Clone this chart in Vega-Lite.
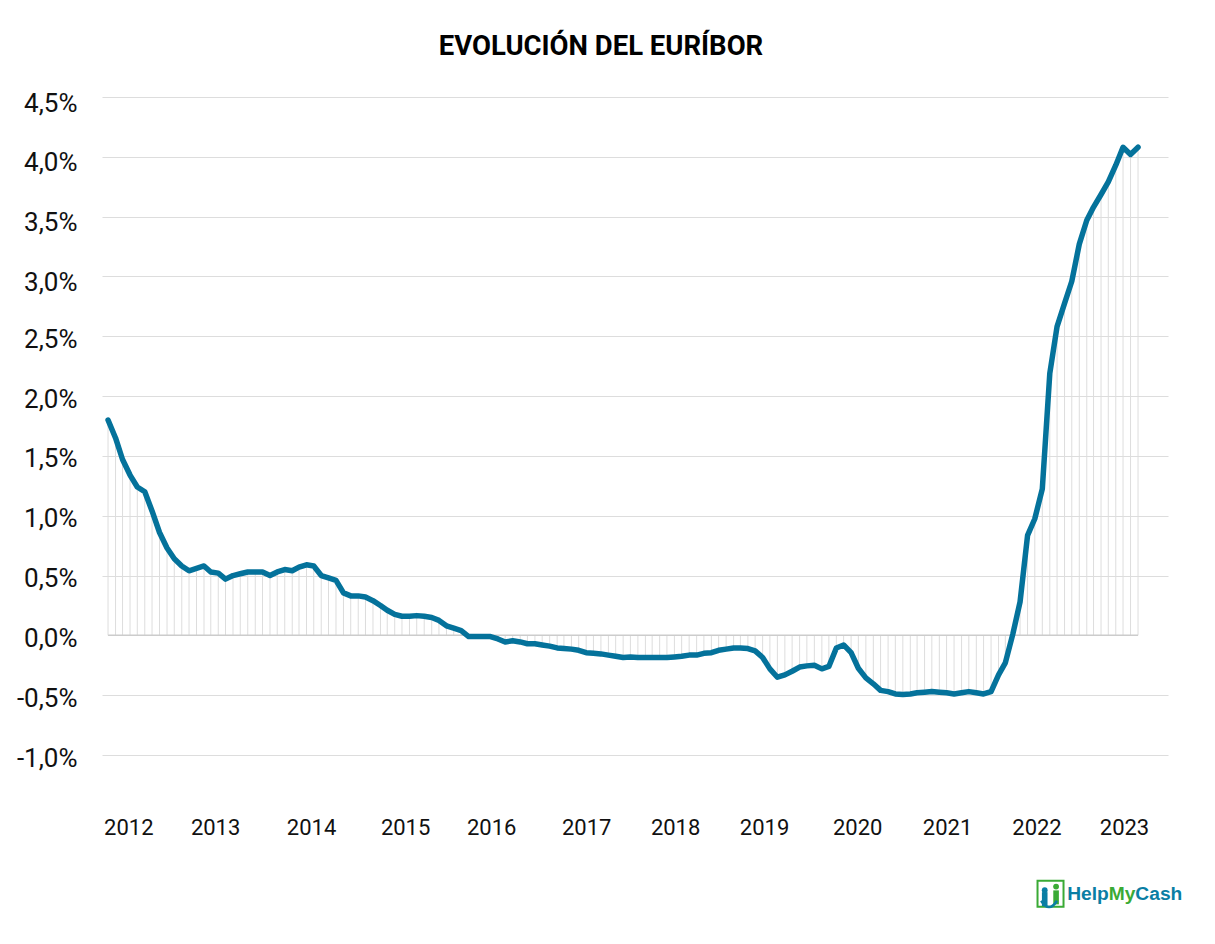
{"$schema":"https://vega.github.io/schema/vega-lite/v6.json","autosize":"none","width":1066,"height":658,"padding":{"left":102,"top":97,"right":47,"bottom":189},"background":"white","title":{"text":"EVOLUCIÓN DEL EURÍBOR","font":"Roboto","fontSize":27.5,"fontWeight":"bold","color":"#000000","anchor":"middle","dx":-34,"offset":30},"config":{"view":{"stroke":null}},"datasets":{"euribor":[
{"d":"2012-01-01","v":1.80},{"d":"2012-02-01","v":1.65},{"d":"2012-03-01","v":1.47},{"d":"2012-04-01","v":1.34},{"d":"2012-05-01","v":1.24},{"d":"2012-06-01","v":1.20},{"d":"2012-07-01","v":1.04},{"d":"2012-08-01","v":0.86},{"d":"2012-09-01","v":0.73},{"d":"2012-10-01","v":0.64},{"d":"2012-11-01","v":0.58},{"d":"2012-12-01","v":0.54},
{"d":"2013-01-01","v":0.56},{"d":"2013-02-01","v":0.58},{"d":"2013-03-01","v":0.53},{"d":"2013-04-01","v":0.52},{"d":"2013-05-01","v":0.47},{"d":"2013-06-01","v":0.50},{"d":"2013-07-01","v":0.515},{"d":"2013-08-01","v":0.53},{"d":"2013-09-01","v":0.53},{"d":"2013-10-01","v":0.53},{"d":"2013-11-01","v":0.50},{"d":"2013-12-01","v":0.53},
{"d":"2014-01-01","v":0.55},{"d":"2014-02-01","v":0.54},{"d":"2014-03-01","v":0.57},{"d":"2014-04-01","v":0.59},{"d":"2014-05-01","v":0.58},{"d":"2014-06-01","v":0.50},{"d":"2014-07-01","v":0.48},{"d":"2014-08-01","v":0.46},{"d":"2014-09-01","v":0.355},{"d":"2014-10-01","v":0.33},{"d":"2014-11-01","v":0.33},{"d":"2014-12-01","v":0.32},
{"d":"2015-01-01","v":0.29},{"d":"2015-02-01","v":0.25},{"d":"2015-03-01","v":0.21},{"d":"2015-04-01","v":0.175},{"d":"2015-05-01","v":0.16},{"d":"2015-06-01","v":0.16},{"d":"2015-07-01","v":0.165},{"d":"2015-08-01","v":0.16},{"d":"2015-09-01","v":0.15},{"d":"2015-10-01","v":0.125},{"d":"2015-11-01","v":0.08},{"d":"2015-12-01","v":0.06},
{"d":"2016-01-01","v":0.04},{"d":"2016-02-01","v":-0.01},{"d":"2016-03-01","v":-0.01},{"d":"2016-04-01","v":-0.01},{"d":"2016-05-01","v":-0.01},{"d":"2016-06-01","v":-0.03},{"d":"2016-07-01","v":-0.055},{"d":"2016-08-01","v":-0.045},{"d":"2016-09-01","v":-0.055},{"d":"2016-10-01","v":-0.07},{"d":"2016-11-01","v":-0.07},{"d":"2016-12-01","v":-0.08},
{"d":"2017-01-01","v":-0.09},{"d":"2017-02-01","v":-0.105},{"d":"2017-03-01","v":-0.11},{"d":"2017-04-01","v":-0.115},{"d":"2017-05-01","v":-0.125},{"d":"2017-06-01","v":-0.145},{"d":"2017-07-01","v":-0.15},{"d":"2017-08-01","v":-0.155},{"d":"2017-09-01","v":-0.165},{"d":"2017-10-01","v":-0.175},{"d":"2017-11-01","v":-0.185},{"d":"2017-12-01","v":-0.18},
{"d":"2018-01-01","v":-0.185},{"d":"2018-02-01","v":-0.185},{"d":"2018-03-01","v":-0.185},{"d":"2018-04-01","v":-0.185},{"d":"2018-05-01","v":-0.185},{"d":"2018-06-01","v":-0.18},{"d":"2018-07-01","v":-0.175},{"d":"2018-08-01","v":-0.165},{"d":"2018-09-01","v":-0.165},{"d":"2018-10-01","v":-0.15},{"d":"2018-11-01","v":-0.145},{"d":"2018-12-01","v":-0.125},
{"d":"2019-01-01","v":-0.115},{"d":"2019-02-01","v":-0.105},{"d":"2019-03-01","v":-0.105},{"d":"2019-04-01","v":-0.11},{"d":"2019-05-01","v":-0.13},{"d":"2019-06-01","v":-0.185},{"d":"2019-07-01","v":-0.28},{"d":"2019-08-01","v":-0.35},{"d":"2019-09-01","v":-0.33},{"d":"2019-10-01","v":-0.30},{"d":"2019-11-01","v":-0.265},{"d":"2019-12-01","v":-0.255},
{"d":"2020-01-01","v":-0.25},{"d":"2020-02-01","v":-0.28},{"d":"2020-03-01","v":-0.26},{"d":"2020-04-01","v":-0.105},{"d":"2020-05-01","v":-0.08},{"d":"2020-06-01","v":-0.145},{"d":"2020-07-01","v":-0.275},{"d":"2020-08-01","v":-0.355},{"d":"2020-09-01","v":-0.405},{"d":"2020-10-01","v":-0.46},{"d":"2020-11-01","v":-0.47},{"d":"2020-12-01","v":-0.49},
{"d":"2021-01-01","v":-0.495},{"d":"2021-02-01","v":-0.49},{"d":"2021-03-01","v":-0.48},{"d":"2021-04-01","v":-0.475},{"d":"2021-05-01","v":-0.47},{"d":"2021-06-01","v":-0.475},{"d":"2021-07-01","v":-0.48},{"d":"2021-08-01","v":-0.49},{"d":"2021-09-01","v":-0.48},{"d":"2021-10-01","v":-0.47},{"d":"2021-11-01","v":-0.48},{"d":"2021-12-01","v":-0.49},
{"d":"2022-01-01","v":-0.47},{"d":"2022-02-01","v":-0.33},{"d":"2022-03-01","v":-0.23},{"d":"2022-04-01","v":0.01},{"d":"2022-05-01","v":0.28},{"d":"2022-06-01","v":0.835},{"d":"2022-07-01","v":0.975},{"d":"2022-08-01","v":1.225},{"d":"2022-09-01","v":2.19},{"d":"2022-10-01","v":2.58},{"d":"2022-11-01","v":2.775},{"d":"2022-12-01","v":2.96},
{"d":"2023-01-01","v":3.27},{"d":"2023-02-01","v":3.47},{"d":"2023-03-01","v":3.58},{"d":"2023-04-01","v":3.685},{"d":"2023-05-01","v":3.79},{"d":"2023-06-01","v":3.93},{"d":"2023-07-01","v":4.08},{"d":"2023-08-01","v":4.02},{"d":"2023-09-01","v":4.08}
],"logoText":[{"t":"Help","d":"2022-11-12","v":-2.16,"c":"blue"},{"t":"My","d":"2023-05-03","v":-2.16,"c":"green"},{"t":"Cash","d":"2023-08-21","v":-2.16,"c":"blue"}],"logoBox":[{"d":"2022-09-04","v":-2.16}],"logoHead":[{"d":"2022-09-27","v":-2.10,"c":"green"},{"d":"2022-08-11","v":-2.13,"c":"blue"}],"logoBody":[{"d":"2022-09-27","v":-2.19,"c":"green"},{"d":"2022-08-11","v":-2.205,"c":"blue"}],"logoArc":[{"d":"2022-08-29","v":-2.245}]},
"data":{"name":"euribor"},
"encoding":{"x":{"field":"d","type":"temporal","scale":{"domain":["2011-12-07","2024-01-03"]},"axis":{"title":null,"grid":false,"domain":false,"ticks":false,"labelFont":"Roboto","labelFontSize":22,"labelColor":"#111111","labelPadding":62,"labelOverlap":false,"labelFlush":false,"labelAngle":0,"values":[{"year":2012,"month":3,"date":25},{"year":2013,"month":3,"date":19},{"year":2014,"month":4,"date":20},{"year":2015,"month":5,"date":14},{"year":2016,"month":5,"date":4},{"year":2017,"month":6,"date":1},{"year":2018,"month":6,"date":4},{"year":2019,"month":6,"date":7},{"year":2020,"month":6,"date":26},{"year":2021,"month":7,"date":3},{"year":2022,"month":7,"date":8},{"year":2023,"month":7,"date":5}],"labelExpr":"timeFormat(datum.value,'%Y')"}},
"y":{"field":"v","type":"quantitative","scale":{"domain":[-1,4.5],"nice":false,"zero":false},"axis":{"title":null,"domain":false,"ticks":false,"grid":true,"gridColor":"#dddddd","gridWidth":1,"gridOpacity":{"condition":{"test":"datum.value===0","value":0},"value":1},"values":[-1,-0.5,0,0.5,1,1.5,2,2.5,3,3.5,4,4.5],"labelFont":"Roboto","labelFontSize":26,"labelColor":"#111111","labelPadding":25,"labelOffset":{"condition":{"test":"datum.value>=3","value":6},"value":3},"labelExpr":"replace(replace(format(datum.value,'.1f'),'.',','),'−','-')+'%'"}}},
"layer":[
{"mark":{"type":"rule","color":"#dddddd","strokeWidth":1},"encoding":{"y2":{"datum":0}}},
{"mark":{"type":"line","color":"#cccccc","strokeWidth":1.5},"encoding":{"y":{"datum":0}}},
{"mark":{"type":"line","color":"#04729b","strokeWidth":5.5,"strokeCap":"round","strokeJoin":"round"}},
{"data":{"name":"logoBox"},"mark":{"type":"point","shape":"square","size":676,"filled":false,"color":"#3aaa35","strokeWidth":2,"opacity":1}},
{"data":{"name":"logoHead"},"mark":{"type":"point","shape":"circle","size":34,"filled":true,"opacity":1},"encoding":{"color":{"field":"c","type":"nominal","legend":null,"scale":{"domain":["blue","green"],"range":["#0a7ea4","#3aaa35"]}}}},
{"data":{"name":"logoBody"},"mark":{"type":"point","shape":"M-0.4,-1L0.4,-1L0.4,1L-0.4,1Z","size":196,"filled":true,"opacity":1},"encoding":{"color":{"field":"c","type":"nominal","legend":null,"scale":{"domain":["blue","green"],"range":["#0a7ea4","#3aaa35"]}}}},
{"data":{"name":"logoArc"},"mark":{"type":"point","shape":"M-1,-0.4Q0,1.2 1,-0.4","size":250,"filled":false,"color":"#0a7ea4","strokeWidth":2.5,"opacity":1}},
{"data":{"name":"logoText"},"mark":{"type":"text","font":"Liberation Sans","fontWeight":"bold","fontSize":19.2,"align":"left","baseline":"middle"},"encoding":{"text":{"field":"t"},"color":{"field":"c","type":"nominal","legend":null,"scale":{"domain":["blue","green"],"range":["#0a7ea4","#3aaa35"]}}}}
]}
